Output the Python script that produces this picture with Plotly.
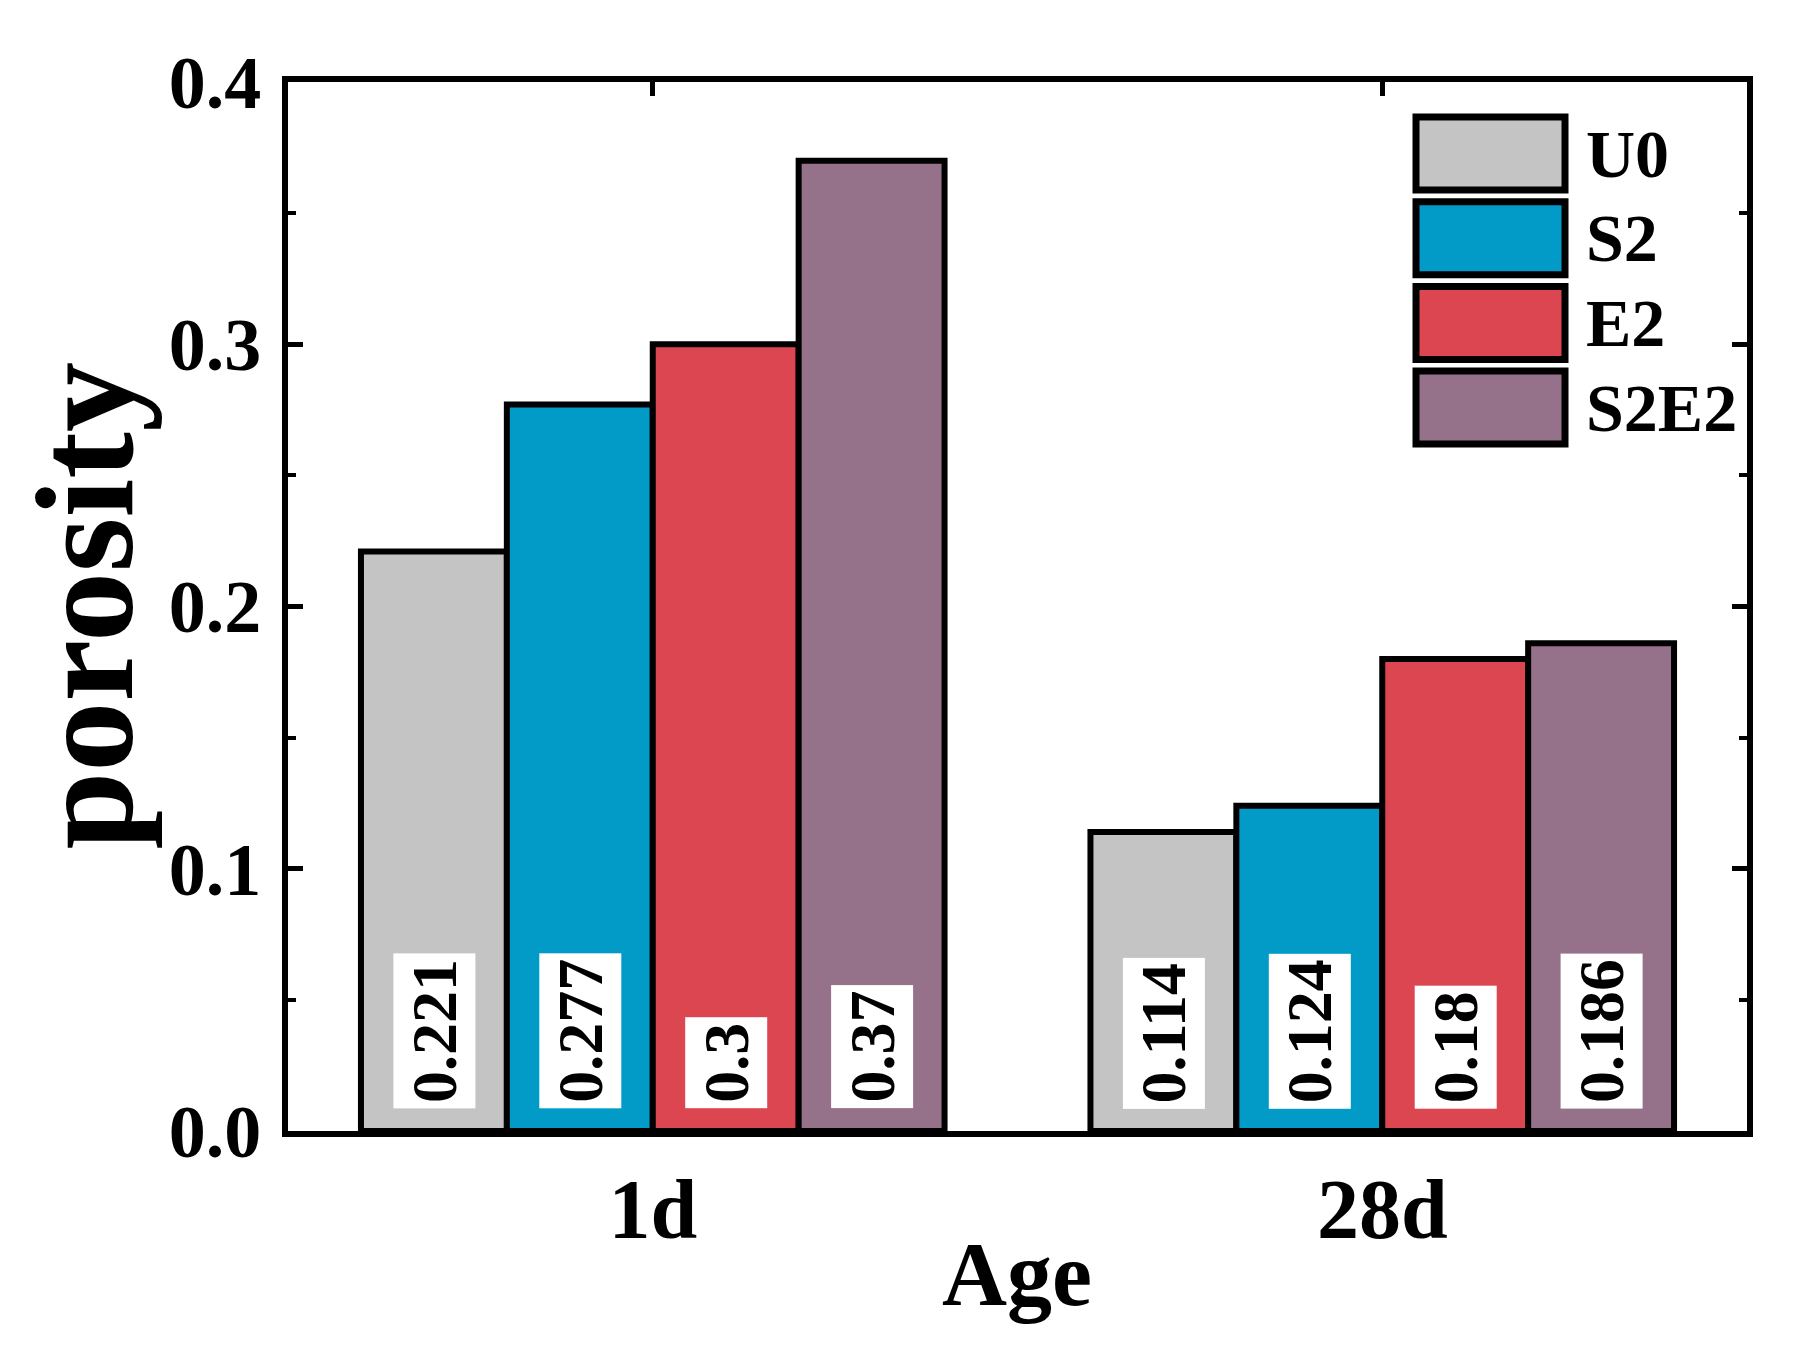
import plotly.graph_objects as go

categories = ["1d", "28d"]
series_names = ["U0", "S2", "E2", "S2E2"]
u0 = [0.221, 0.114]
s2 = [0.277, 0.124]
e2 = [0.3, 0.18]
s2e2 = [0.37, 0.186]
colors = ["#C3C4C3", "#029BC7", "#DC4651", "#957289"]
y_ticks = [0.0, 0.1, 0.2, 0.3, 0.4]

series_values = [u0, s2, e2, s2e2]
FONT = "Times New Roman, Liberation Serif, serif"

W, H = 1808, 1351
L, R, T, B = 280, 69, 74, 228
pw, ph = W - L - R, H - T - B

fig = go.Figure()
for name, vals, col in zip(series_names, series_values, colors):
    fig.add_trace(go.Bar(
        x=categories, y=vals, name=name,
        marker=dict(color=col, line=dict(color="black", width=6)),
        showlegend=False,
    ))

annotations = []
# value labels in white boxes
n = len(series_names)
bw = 0.8 / n
for si, vals in enumerate(series_values):
    off = -0.4 + bw * (si + 0.5)
    for ci, v in enumerate(vals):
        annotations.append(dict(
            x=ci + off, y=0, xref="x", yref="y",
            text=f"{v:g}", textangle=-90, showarrow=False,
            xanchor="center", yanchor="bottom", yshift=22,
            bgcolor="white", borderpad=5,
            font=dict(family=FONT, size=64, color="black", weight="bold"),
        ))

# axis titles
annotations.append(dict(
    x=(76 - L) / pw, y=0.5, xref="paper", yref="paper",
    text="porosity", textangle=-90, showarrow=False,
    xanchor="center", yanchor="middle",
    font=dict(family=FONT, size=140, color="black", weight="bold"),
))
annotations.append(dict(
    x=(1009 - L) / pw, y=(T + ph - 1266) / ph, xref="paper", yref="paper",
    text="Age", showarrow=False, xanchor="center", yanchor="middle",
    font=dict(family=FONT, size=90, color="black", weight="bold"),
))

# manual legend
shapes = []
box_x0 = (1408 - L) / pw
box_x1 = (1557 - L) / pw
text_x = (1576 - L) / pw
top0 = 109
step = 84.7
bh = 73
for i, (name, col) in enumerate(zip(series_names, colors)):
    ytop = top0 + i * step
    y1 = (T + ph - ytop) / ph
    y0 = (T + ph - ytop - bh) / ph
    shapes.append(dict(
        type="rect", xref="paper", yref="paper",
        x0=box_x0, x1=box_x1, y0=y0, y1=y1,
        fillcolor=col, line=dict(color="black", width=7),
    ))
    annotations.append(dict(
        x=text_x, y=(y0 + y1) / 2, xref="paper", yref="paper",
        text=name, showarrow=False, xanchor="left", yanchor="middle",
        font=dict(family=FONT, size=68, color="black", weight="bold"),
    ))

fig.update_layout(
    width=W, height=H,
    margin=dict(l=L, r=R, t=T, b=B, pad=0),
    paper_bgcolor="white", plot_bgcolor="white",
    barmode="group", bargap=0.2, bargroupgap=0,
    font=dict(family=FONT, color="black"),
    annotations=annotations, shapes=shapes,
    showlegend=False,
)
fig.update_xaxes(
    range=[-0.5, 1.5], showline=True, linecolor="black", linewidth=6,
    mirror="allticks", ticks="inside", ticklen=14, tickwidth=5, tickcolor="black",
    showgrid=False, zeroline=False,
    tickfont=dict(family=FONT, size=84, color="black", weight="bold"),
    ticklabelstandoff=0,
)
fig.update_yaxes(
    range=[0, 0.4], tickvals=y_ticks, ticktext=[f"{t:.1f}" for t in y_ticks],
    showline=True, linecolor="black", linewidth=6,
    mirror="allticks", ticks="inside", ticklen=15, tickwidth=5, tickcolor="black",
    minor=dict(dtick=0.05, ticks="inside", ticklen=8, tickwidth=4, tickcolor="black", showgrid=False),
    showgrid=False, zeroline=False,
    tickfont=dict(family=FONT, size=74, color="black", weight="bold"),
    ticklabelstandoff=6,
)

fig.write_html("out.html")
